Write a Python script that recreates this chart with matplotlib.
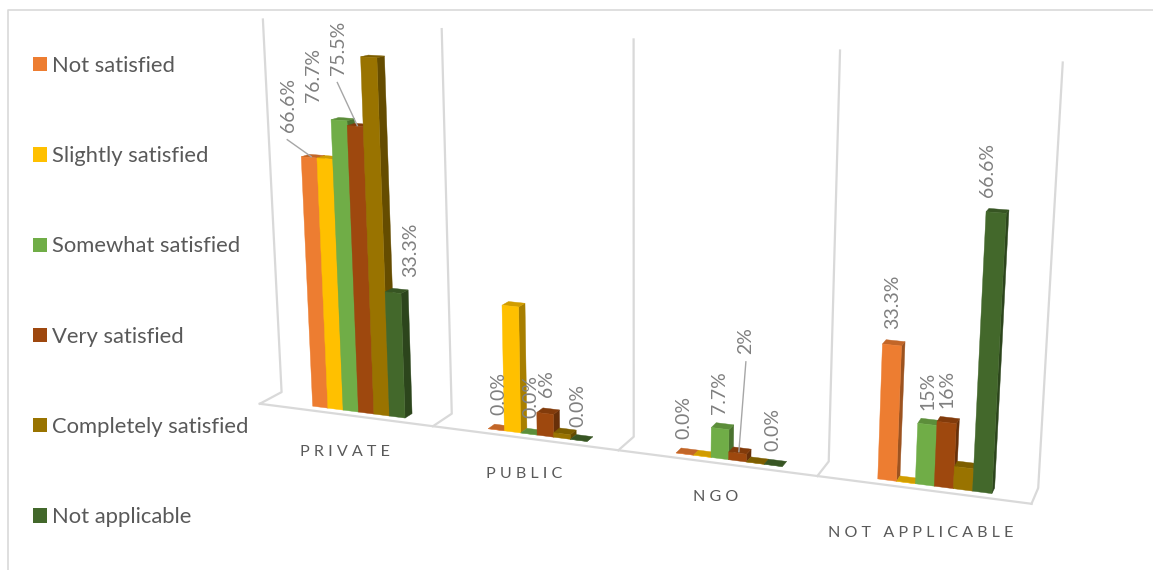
import numpy as np
import matplotlib
matplotlib.use("Agg")
import matplotlib.pyplot as plt
from matplotlib.patches import Patch, Polygon
from matplotlib.colors import to_rgb

categories = ["PRIVATE", "PUBLIC", "NGO", "NOT APPLICABLE"]
series = ["Not satisfied", "Slightly satisfied", "Somewhat satisfied",
          "Very satisfied", "Completely satisfied", "Not applicable"]
colors = ["#ED7D31", "#FFC000", "#70AD47", "#9E480E", "#997300", "#43682B"]

not_satisfied = [66.6, 0.0, 0.0, 33.3]
slightly_satisfied = [66.6, 33.0, 0.0, 0.0]
somewhat_satisfied = [76.7, 0.0, 7.7, 15.0]
very_satisfied = [75.5, 6.0, 2.0, 16.0]
completely_satisfied = [93.0, 1.2, 0.0, 5.5]
not_applicable = [33.3, 0.0, 0.0, 66.6]
values = [not_satisfied, slightly_satisfied, somewhat_satisfied,
          very_satisfied, completely_satisfied, not_applicable]

# (category, series): label text, offset from the bar top in px, leader line or not
labels = {
    (0, 0): ("66.6%", -23, -52, True),
    (0, 2): ("76.7%", -28, -45, False),
    (0, 3): ("75.5%", -19, -78, True),
    (0, 5): ("33.3%", 16, -42, False),
    (1, 0): ("0.0%", 1, -35, False),
    (1, 2): ("0.0%", 0, -36, False),
    (1, 3): ("6%", 0, -29, False),
    (1, 5): ("0.0%", -2, -34, False),
    (2, 0): ("0.0%", -2, -35, False),
    (2, 2): ("7.7%", -2, -35, False),
    (2, 3): ("2%", 7, -111, True),
    (2, 5): ("0.0%", -2, -35, False),
    (3, 0): ("33.3%", 0, -42, False),
    (3, 2): ("15%", 0, -32, False),
    (3, 3): ("16%", -1, -32, False),
    (3, 5): ("66.6%", -9, -42, False),
}
category_drop = [37, 36, 34, 43]
category_shift = [0, 0, 0, -2]

# camera: wall corners (category, depth, height) and where they land on the canvas
world = [(i, 0, 0) for i in range(5)] + [(i, 1, 0) for i in range(5)] + [(i, 1, 1) for i in range(5)]
canvas = [(260, 404), (433, 426), (618, 451), (817, 475), (1032, 504),
          (282, 392), (452, 413), (633, 437), (828, 462), (1039, 488),
          (262, 20), (441, 29), (637, 39), (839, 50), (1062, 63)]

def fit_camera(world, canvas):
    rows, rhs = [], []
    for (x, y, z), (u, v) in zip(world, canvas):
        rows.append([x, y, z, 1, 0, 0, 0, 0, -u*x, -u*y, -u*z])
        rows.append([0, 0, 0, 0, x, y, z, 1, -v*x, -v*y, -v*z])
        rhs += [u, v]
    p = np.linalg.lstsq(np.array(rows, float), np.array(rhs, float), rcond=None)[0]
    return np.append(p, 1).reshape(3, 4)

camera = fit_camera(world, canvas)

def project(x, y, z):
    u, v, w = camera @ np.array([x, y, z, 1.0])
    return u/w, v/w

def shade(color, k):
    return tuple(c*k for c in to_rgb(color))

fig = plt.figure(figsize=(11.53, 5.70), dpi=100)
plt.rcParams['font.family'] = ['Lato', 'DejaVu Sans']
ax = fig.add_axes([0, 0, 1, 1])
ax.set_xlim(0, 1153)
ax.set_ylim(570, 0)
ax.axis("off")

# chart frame
ax.plot([8, 8, 1153], [570, 10, 10], color="#d9d9d9", lw=1.2)

# walls and floor
wall_color = "#d9d9d9"
for i in range(5):
    ax.plot(*zip(project(i, 0, 0), project(i, 1, 0), project(i, 1, 1)), color=wall_color, lw=1.6)
ax.plot(*zip(project(0, 0, 0), project(4, 0, 0)), color=wall_color, lw=1.6)

bar_start, bar_end = 0.275, 0.81
depth_front, depth_back = 0.30, 0.66
bar_w = (bar_end - bar_start)/len(series)

def draw_bar(x0, x1, h, color):
    h = h/100
    faces = [
        ([(x1, depth_front, 0), (x1, depth_back, 0), (x1, depth_back, h), (x1, depth_front, h)], 0.66),
        ([(x0, depth_front, h), (x1, depth_front, h), (x1, depth_back, h), (x0, depth_back, h)], 0.82),
        ([(x0, depth_front, 0), (x1, depth_front, 0), (x1, depth_front, h), (x0, depth_front, h)], 1.0),
    ]
    for corners, k in faces:
        c = shade(color, k)
        ax.add_patch(Polygon([project(*p) for p in corners], closed=True,
                             facecolor=c, edgecolor=c, lw=0.3))

for c in range(len(categories)):
    for s in range(len(series)):
        x0 = c + bar_start + s*bar_w
        draw_bar(x0, x0 + bar_w, values[s][c], colors[s])

# data labels and their leader lines
for (c, s), (text, dx, dy, leader) in labels.items():
    x0 = c + bar_start + s*bar_w
    tx, ty = project(x0 + bar_w/2, depth_front + 0.1, values[s][c]/100)
    ax.text(tx + dx, ty + dy, text, rotation=90, ha="center", va="center",
            fontsize=14, color="#7f7f7f")
    if leader:
        ax.plot([tx + dx - (len(text) > 2), tx], [ty + dy + 12 + 4.6*len(text), ty],
                color="#a6a6a6", lw=1)

for i, name in enumerate(categories):
    px, py = project(i + 0.5, 0, 0)
    ax.text(px + category_shift[i], py + category_drop[i], " ".join(name), ha="center", va="center",
            fontsize=11.6, color="#595959")

handles = [Patch(facecolor=col, label=name) for col, name in zip(colors, series)]
ax.legend(handles=handles, loc="upper left", bbox_to_anchor=(33/1153, 1 - 56/570),
          frameon=False, fontsize=15.8, labelcolor="#595959", labelspacing=3.2,
          handlelength=0.63, handleheight=0.63, handletextpad=0.25, borderpad=0, borderaxespad=0)

fig.savefig("out.png", dpi=100)
